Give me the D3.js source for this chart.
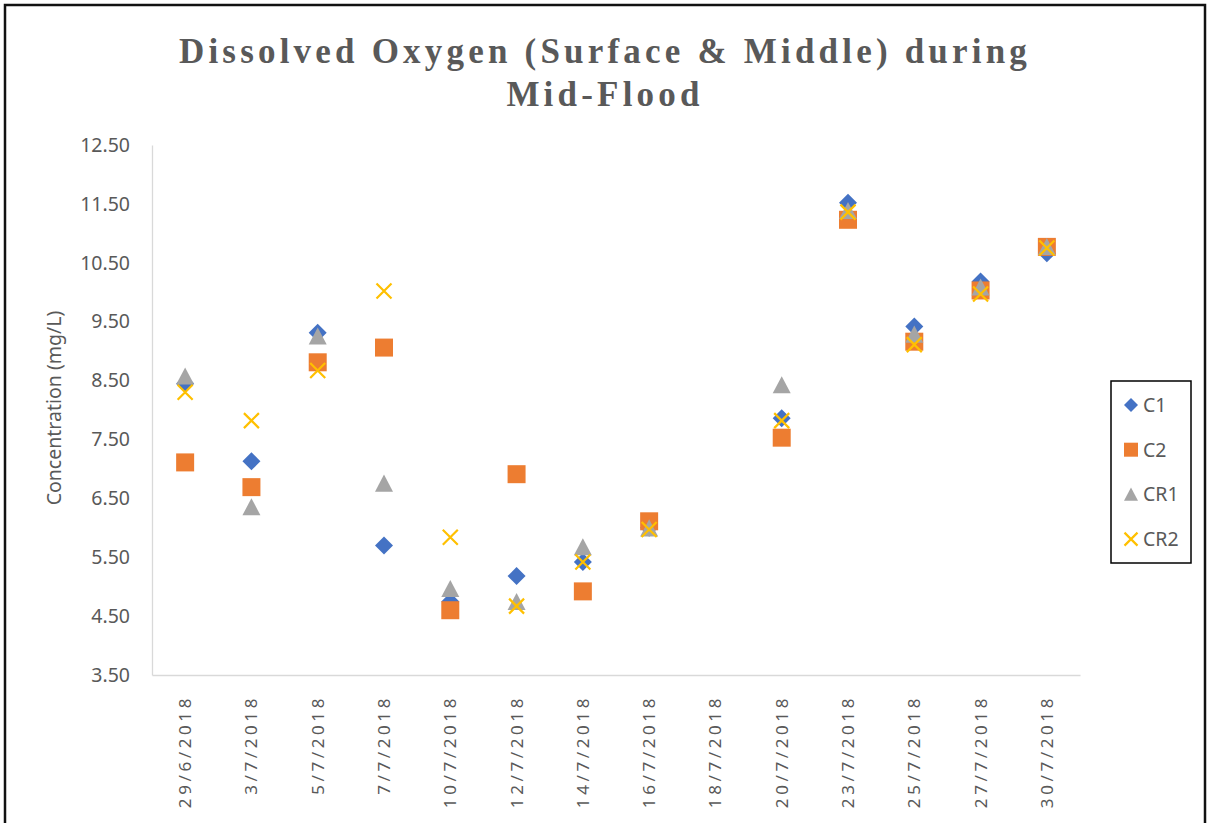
<!DOCTYPE html>
<html>
<head>
<meta charset="utf-8">
<script src="https://cdn.jsdelivr.net/npm/d3@7"></script>
<style>
  body { margin: 0; background: #fff; }
  svg { display: block; }
</style>
</head>
<body>
<svg id="chart" width="1210" height="823"></svg>
<script>
// dates on the category axis
const dates = ["29/6/2018", "3/7/2018", "5/7/2018", "7/7/2018", "10/7/2018", "12/7/2018", "14/7/2018",
    "16/7/2018", "18/7/2018", "20/7/2018", "23/7/2018", "25/7/2018", "27/7/2018", "30/7/2018"];

// concentration readings (mg/L), null = no sample that day
const c1  = [8.45, 7.13, 9.31, 5.70, 4.75, 5.18, 5.42, 6.00, null, 7.86, 11.52, 9.42, 10.18, 10.66];
const c2  = [7.11, 6.69, 8.81, 9.06, 4.60, 6.91, 4.92, 6.11, null, 7.53, 11.23, 9.16, 10.03, 10.77];
const cr1 = [8.57, 6.35, 9.25, 6.75, 4.96, 4.74, 5.67, 5.99, null, 8.42, 11.38, 9.28, 10.08, 10.77];
const cr2 = [8.30, 7.82, 8.67, 10.02, 5.84, 4.67, 5.42, 5.97, null, 7.82, 11.36, 9.11, 9.97, 10.75];

const yTicks = [3.5, 4.5, 5.5, 6.5, 7.5, 8.5, 9.5, 10.5, 11.5, 12.5];

const seriesList = [
    {name: "C1", values: c1, color: "#4472C4", shape: "diamond"},
    {name: "C2", values: c2, color: "#ED7D31", shape: "square"},
    {name: "CR1", values: cr1, color: "#A5A5A5", shape: "triangle"},
    {name: "CR2", values: cr2, color: "#FFC000", shape: "cross"}
];

const textColor = "#595959";
const svg = d3.select("#chart");

// outer frame
svg.append("rect")
    .attr("x", 5).attr("y", 5)
    .attr("width", 1200).attr("height", 840)
    .attr("fill", "none")
    .attr("stroke", "#111")
    .attr("stroke-width", 2.5);

// title
const title = svg.append("text")
    .attr("text-anchor", "middle")
    .attr("font-family", "'Liberation Serif', serif")
    .attr("font-weight", "bold")
    .attr("font-size", 35)
    .attr("letter-spacing", 4.2)
    .attr("fill", textColor);
title.append("tspan").attr("x", 605).attr("y", 63).text("Dissolved Oxygen (Surface & Middle) during");
title.append("tspan").attr("x", 605).attr("y", 106).text("Mid-Flood");

const plot = {left: 152, right: 1080, top: 145, bottom: 675};

const x = d3.scaleBand()
    .domain(dates)
    .range([plot.left, plot.right])
    .padding(0);

const y = d3.scaleLinear()
    .domain([3.5, 12.5])
    .range([plot.bottom, plot.top]);

// y axis
const yAxis = svg.append("g")
    .attr("transform", `translate(${plot.left},0)`)
    .call(d3.axisLeft(y).tickValues(yTicks).tickFormat(d3.format(".2f")).tickSize(0).tickPadding(22));
yAxis.select(".domain").attr("stroke", "#D9D9D9").attr("stroke-width", 1.3);
yAxis.selectAll("text")
    .attr("font-family", "'Noto Sans', sans-serif")
    .attr("font-size", 19.5)
    .attr("fill", textColor);

// x axis
const xAxis = svg.append("g")
    .attr("transform", `translate(0,${plot.bottom})`)
    .call(d3.axisBottom(x).tickSize(0).tickSizeOuter(0));
xAxis.select(".domain").attr("stroke", "#D9D9D9").attr("stroke-width", 1.3);
xAxis.selectAll("text")
    .attr("font-family", "'Noto Sans', sans-serif")
    .attr("font-size", 17)
    .attr("letter-spacing", 3.6)
    .attr("fill", textColor)
    .attr("text-anchor", "end")
    .attr("dy", null)
    .attr("transform", "translate(6,20) rotate(-90)")
    .attr("x", 0).attr("y", 0);

// y axis title
svg.append("text")
    .attr("transform", "translate(61,408) rotate(-90)")
    .attr("text-anchor", "middle")
    .attr("font-family", "'Noto Sans', sans-serif")
    .attr("font-size", 19.5)
    .attr("fill", textColor)
    .text("Concentration (mg/L)");

function markerPath(shape, s) {
    const h = s / 2;
    if (shape === "diamond") return `M0,${-h}L${h},0L0,${h}L${-h},0Z`;
    if (shape === "square") return `M${-h},${-h}H${h}V${h}H${-h}Z`;
    if (shape === "triangle") return `M0,${-h}L${h},${h * 0.9}L${-h},${h * 0.9}Z`;
    return `M${-h},${-h}L${h},${h}M${h},${-h}L${-h},${h}`;
}

function drawMarker(g, shape, color, s) {
    const p = g.append("path").attr("d", markerPath(shape, s));
    if (shape === "cross") {
        p.attr("fill", "none").attr("stroke", color).attr("stroke-width", 2.2);
    } else {
        p.attr("fill", color);
    }
    return p;
}

const cx = d => x(d) + x.bandwidth() / 2;
const sizes = {diamond: 18, square: 18, triangle: 18, cross: 15};

seriesList.forEach(sr => {
    const g = svg.append("g").attr("class", "series-" + sr.name);
    sr.values.forEach((v, i) => {
        if (v === null) return;
        const m = g.append("g").attr("transform", `translate(${cx(dates[i])},${y(v)})`);
        drawMarker(m, sr.shape, sr.color, sizes[sr.shape]);
    });
});

// legend
const legend = svg.append("g");
legend.append("rect")
    .attr("x", 1111).attr("y", 381)
    .attr("width", 80).attr("height", 182)
    .attr("fill", "#fff")
    .attr("stroke", "#000")
    .attr("stroke-width", 1.5);

seriesList.forEach((sr, i) => {
    const ly = 405 + i * 44.7;
    const m = legend.append("g").attr("transform", `translate(1131,${ly})`);
    drawMarker(m, sr.shape, sr.color, sr.shape === "cross" ? 13 : 14);
    legend.append("text")
        .attr("x", 1143).attr("y", ly)
        .attr("dy", "0.35em")
        .attr("font-family", "'Noto Sans', sans-serif")
        .attr("font-size", 19.5)
        .attr("fill", textColor)
        .text(sr.name);
});
</script>
</body>
</html>
